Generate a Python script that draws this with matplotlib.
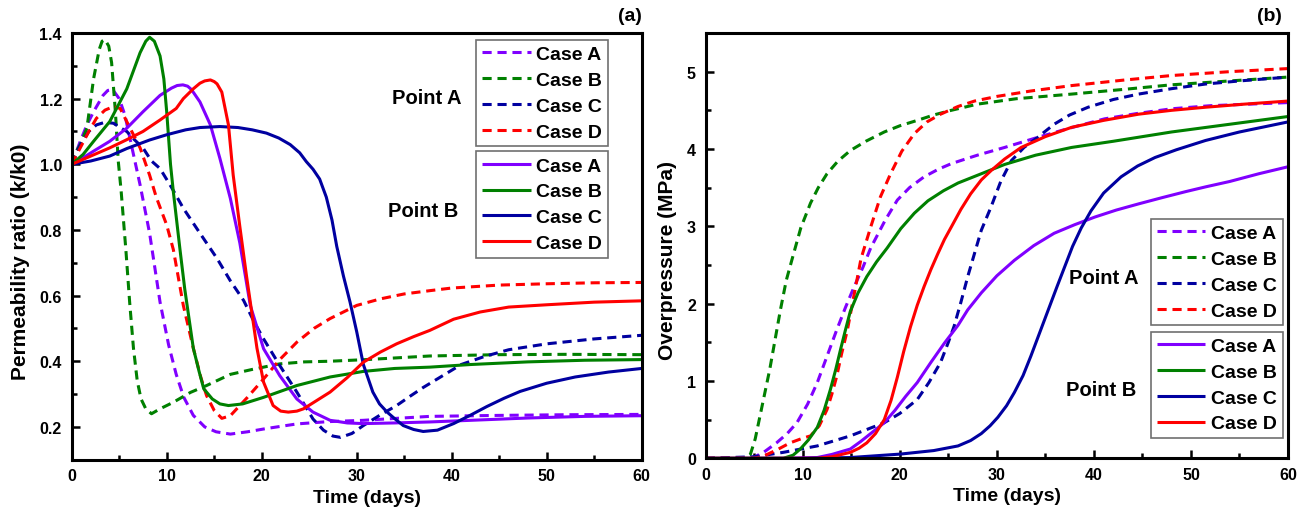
import numpy as np
import matplotlib
matplotlib.use('Agg')
import matplotlib.pyplot as plt
from matplotlib.ticker import MultipleLocator, FormatStrFormatter

plt.rcParams['font.family'] = ['Liberation Sans', 'DejaVu Sans']
plt.rcParams['font.weight'] = 'bold'
plt.rcParams['axes.labelweight'] = 'bold'

colors = ['#8000ff', '#008000', '#0000a0', '#ff0000']
cases = ['Case A', 'Case B', 'Case C', 'Case D']

# ---- (a) permeability ratio, point A (dashed) ----
kA_t_a = [0, 0.9, 1.6, 2.3, 3.3, 3.8, 4.3, 5.0, 5.6, 6.5, 7.2, 8.2, 9.3, 10.2, 11, 11.8, 12.8, 14, 15.2,
          16.7, 18.5, 20.5, 23.7, 27, 30.7, 37.7, 45, 52, 60]
kA_v_a = [1.0, 1.07, 1.12, 1.16, 1.21, 1.225, 1.228, 1.2, 1.15, 1.03, 0.937, 0.79, 0.58, 0.45, 0.36, 0.29,
          0.235, 0.2, 0.185, 0.178, 0.185, 0.195, 0.209, 0.216, 0.22, 0.232, 0.235, 0.237, 0.238]
kA_t_b = [0, 0.5, 0.9, 1.6, 2.3, 2.9, 3.2, 3.5, 3.9, 4.2, 4.6, 4.9, 5.2, 5.7, 6.1, 6.5, 6.9, 7.3, 7.8,
          8.4, 9.3, 10.7, 12.5, 14.2, 16.7, 19, 21.9, 24.5, 27.2, 31, 37.7, 45, 52, 60]
kA_v_b = [1.0, 1.04, 1.06, 1.11, 1.26, 1.35, 1.375, 1.38, 1.36, 1.31, 1.16, 1.01, 0.92, 0.74, 0.58, 0.44,
          0.34, 0.285, 0.255, 0.24, 0.255, 0.275, 0.305, 0.326, 0.36, 0.375, 0.392, 0.398, 0.40, 0.405,
          0.416, 0.42, 0.421, 0.42]
kA_t_c = [0, 0.9, 1.8, 2.6, 3.5, 4.4, 5.2, 5.8, 6.6, 7.5, 8.4, 9.3, 10.5, 11.75, 13.5, 15.3, 16.7, 18.1,
          19.2, 20.2, 21.9, 23.7, 25.4, 26.5, 27.5, 28.3, 29.5, 30.7, 32.4, 34.2, 35.6, 37, 39, 41, 43.5,
          46, 50, 55, 60]
kA_v_c = [1.0, 1.058, 1.1, 1.12, 1.128, 1.125, 1.11, 1.10, 1.075, 1.05, 1.01, 0.987, 0.93, 0.866, 0.79,
          0.713, 0.645, 0.585, 0.52, 0.468, 0.387, 0.306, 0.224, 0.19, 0.172, 0.168, 0.18, 0.204, 0.235,
          0.265, 0.293, 0.32, 0.355, 0.39, 0.415, 0.435, 0.453, 0.468, 0.479]
kA_t_d = [0, 0.9, 1.8, 2.6, 3.5, 4.4, 5.1, 5.8, 6.5, 7.2, 8.2, 8.9, 10, 10.7, 11.75, 12.8, 13.6, 14.2,
          15.0, 15.8, 16.7, 18.5, 20.2, 21.9, 23.7, 25.5, 27.2, 30, 32.5, 35, 37.7, 40, 45, 50, 55, 60]
kA_v_d = [1.0, 1.05, 1.1, 1.14, 1.165, 1.176, 1.17, 1.13, 1.09, 1.05, 0.967, 0.9, 0.815, 0.74, 0.57, 0.44,
          0.35, 0.295, 0.25, 0.226, 0.234, 0.29, 0.346, 0.405, 0.458, 0.5, 0.53, 0.57, 0.59, 0.605, 0.615,
          0.623, 0.632, 0.636, 0.639, 0.64]

# ---- (a) permeability ratio, point B (solid) ----
kB_t_a = [0, 1.2, 2.3, 4, 5.8, 7.5, 9.3, 10.5, 11.1, 11.7, 12.2, 12.6, 13.5, 14.6, 15.6, 16.7, 17.7,
          18.8, 20.2, 21.9, 23.7, 25.4, 27.2, 29, 30.7, 34, 37.7, 42, 48, 54, 60]
kB_v_a = [1.0, 1.02, 1.04, 1.07, 1.11, 1.16, 1.21, 1.232, 1.24, 1.242, 1.238, 1.228, 1.19, 1.12, 1.018,
          0.896, 0.76, 0.57, 0.438, 0.356, 0.285, 0.245, 0.22, 0.212, 0.21, 0.212, 0.215, 0.22, 0.227,
          0.232, 0.234]
kB_t_b = [0, 1.2, 2.3, 4, 5.8, 7.2, 7.8, 8.2, 8.7, 9.3, 9.7, 10, 10.4, 10.7, 11.4, 11.9, 12.4, 12.8,
          13.4, 13.9, 14.8, 15.6, 16.5, 18, 20.2, 23.7, 27.2, 30.7, 34, 37.7, 42, 48, 54, 60]
kB_v_b = [1.0, 1.03, 1.07, 1.13, 1.23, 1.34, 1.375, 1.387, 1.375, 1.33, 1.26, 1.16, 1.0, 0.916, 0.74,
          0.62, 0.52, 0.44, 0.37, 0.316, 0.285, 0.27, 0.265, 0.27, 0.29, 0.326, 0.352, 0.369, 0.378,
          0.382, 0.39, 0.398, 0.403, 0.405]
kB_t_c = [0, 2, 4, 5.8, 8.2, 10, 12, 13.5, 15.6, 17.5, 19, 20.5, 21.8, 23, 24, 24.7, 25.4, 26.1, 26.8,
          27.4, 27.9, 28.6, 29.3, 30, 30.7, 31.7, 32.4, 33.2, 34, 34.9, 36, 37, 38.5, 40.2, 42, 43.7,
          45.5, 47.2, 50, 53, 56.5, 60]
kB_v_c = [1.0, 1.01, 1.025, 1.048, 1.074, 1.09, 1.105, 1.112, 1.115, 1.112, 1.105, 1.095, 1.08, 1.06,
          1.035, 1.008, 0.985, 0.955, 0.9, 0.83, 0.75, 0.66, 0.58, 0.49, 0.39, 0.306, 0.27, 0.245, 0.225,
          0.204, 0.192, 0.186, 0.19, 0.21, 0.236, 0.262, 0.287, 0.308, 0.333, 0.352, 0.367, 0.378]
kB_t_d = [0, 2, 4, 5.8, 7.5, 9.3, 11, 11.75, 12.8, 13.5, 14.0, 14.6, 15.0, 15.3, 15.8, 16.5, 17, 17.7,
          18.4, 18.8, 19.5, 20.2, 21.2, 22, 22.8, 23.7, 24.4, 25.5, 27.2, 29, 30.7, 32.5, 34.2, 36, 37.7,
          40.2, 43, 46, 50, 55, 60]
kB_v_d = [1.0, 1.025, 1.05, 1.075, 1.10, 1.135, 1.17, 1.2, 1.23, 1.247, 1.254, 1.257, 1.252, 1.245,
          1.22, 1.12, 0.967, 0.81, 0.66, 0.58, 0.44, 0.336, 0.265, 0.248, 0.245, 0.248, 0.255, 0.275,
          0.306, 0.35, 0.397, 0.428, 0.453, 0.475, 0.494, 0.528, 0.55, 0.565, 0.572, 0.58, 0.584]

# ---- (b) overpressure, point A (dashed) ----
pA_t_a = [0, 4, 4.9, 6, 7.3, 8.4, 9.4, 10.5, 11.5, 12.5, 13.5, 14.4, 15.3, 16.2, 17, 18.5, 19.75, 21,
          22.5, 24, 25.3, 27, 28, 30.8, 34.2, 37.5, 41.1, 44.5, 48, 52, 56, 60]
pA_v_a = [0, 0, 0.01, 0.08, 0.2, 0.32, 0.46, 0.7, 0.98, 1.32, 1.66, 1.95, 2.22, 2.47, 2.72, 3.08, 3.34,
          3.5, 3.64, 3.74, 3.81, 3.88, 3.92, 4.02, 4.15, 4.27, 4.39, 4.46, 4.52, 4.56, 4.58, 4.6]
pA_t_b = [0, 4, 4.6, 5.1, 5.6, 6.1, 6.6, 7.1, 7.7, 8.3, 9, 9.8, 10.8, 11.6, 12.5, 13.6, 14.9, 16.5,
          18.4, 20, 21.8, 23.5, 25.3, 28, 32, 37.7, 43, 48, 54, 60]
pA_v_b = [0, 0, 0.05, 0.25, 0.55, 0.85, 1.15, 1.5, 1.92, 2.3, 2.62, 2.98, 3.3, 3.5, 3.68, 3.84, 3.98,
          4.1, 4.22, 4.3, 4.37, 4.44, 4.5, 4.58, 4.65, 4.71, 4.77, 4.83, 4.88, 4.93]
pA_t_c = [0, 5, 8, 11.5, 14.9, 18.4, 20, 21.8, 23, 24.2, 25, 25.6, 26.3, 27, 27.7, 28.4, 29.4, 30.4,
          31.5, 32.8, 34.2, 35.9, 37.5, 39.4, 42, 44.6, 48, 51.5, 55, 60]
pA_v_c = [0, 0.02, 0.077, 0.16, 0.29, 0.46, 0.58, 0.76, 0.98, 1.24, 1.5, 1.71, 2.02, 2.35, 2.65, 2.95,
          3.25, 3.58, 3.85, 4.02, 4.15, 4.32, 4.44, 4.54, 4.64, 4.71, 4.78, 4.84, 4.88, 4.93]
pA_t_d = [0, 5, 6, 7.5, 8.7, 10, 10.8, 11.7, 12.5, 13, 13.5, 14, 14.6, 15.3, 16, 17, 18, 19.05, 20.2,
          21.5, 22.8, 24.2, 26, 27.7, 30, 33.5, 37.7, 43, 48, 54, 60]
pA_v_d = [0, 0, 0.03, 0.12, 0.2, 0.26, 0.29, 0.42, 0.63, 0.83, 1.06, 1.35, 1.66, 2.12, 2.58, 2.99, 3.38,
          3.68, 3.97, 4.2, 4.35, 4.45, 4.55, 4.62, 4.68, 4.75, 4.82, 4.89, 4.95, 5.0, 5.04]

# ---- (b) overpressure, point B (solid) ----
pB_t_a = [0, 8, 11.5, 13, 14.9, 16, 17, 18.4, 19.5, 20.6, 21.8, 23.2, 24.6, 26, 27, 28.4, 30, 31.8,
          33.8, 35.9, 38, 40.1, 42.3, 44.6, 47, 49.5, 51.5, 54, 57, 60]
pB_v_a = [0, 0, 0.01, 0.05, 0.12, 0.22, 0.32, 0.46, 0.62, 0.8, 0.98, 1.24, 1.49, 1.72, 1.92, 2.14, 2.36,
          2.56, 2.75, 2.91, 3.02, 3.12, 3.21, 3.29, 3.37, 3.45, 3.51, 3.58, 3.68, 3.77]
pB_t_b = [0, 8, 9, 9.75, 10.6, 11.5, 12.2, 12.85, 13.4, 13.9, 14.4, 14.9, 15.7, 16.6, 17.6, 18.7, 20.1,
          21.5, 22.9, 24.5, 26, 28.2, 30.8, 34, 37.7, 42, 48, 54, 60]
pB_v_b = [0, 0, 0.04, 0.12, 0.24, 0.4, 0.62, 0.89, 1.15, 1.41, 1.66, 1.9, 2.14, 2.35, 2.54, 2.72, 2.97,
          3.17, 3.33, 3.46, 3.56, 3.67, 3.8, 3.92, 4.02, 4.1, 4.22, 4.32, 4.42]
pB_t_c = [0, 10, 14.9, 20.1, 23.5, 26, 27.3, 28.4, 29.3, 30.1, 31, 31.8, 32.7, 33.5, 34.4, 35.3, 36.2,
          37, 37.8, 38.7, 39.7, 41, 42.8, 44.5, 46.3, 48.5, 51.5, 55, 60]
pB_v_c = [0, 0, 0.01, 0.055, 0.1, 0.16, 0.23, 0.32, 0.42, 0.53, 0.68, 0.85, 1.07, 1.32, 1.62, 1.92, 2.22,
          2.48, 2.74, 2.98, 3.2, 3.43, 3.64, 3.78, 3.89, 3.99, 4.11, 4.22, 4.35]
pB_t_d = [0, 11.5, 13, 14.9, 15.8, 16.6, 17.5, 18.4, 19.1, 19.75, 20.4, 21.1, 21.8, 22.5, 23.2, 23.9,
          24.6, 25.3, 26.3, 27.3, 28.4, 29.4, 30.8, 32.5, 35, 37.7, 41, 44.6, 48, 51.5, 55.5, 60]
pB_v_d = [0, 0, 0.02, 0.077, 0.13, 0.2, 0.32, 0.5, 0.75, 1.05, 1.38, 1.7, 1.98, 2.22, 2.44, 2.64, 2.83,
          2.99, 3.22, 3.42, 3.6, 3.72, 3.87, 4.02, 4.16, 4.28, 4.37, 4.45, 4.5, 4.54, 4.58, 4.62]

perm_A = [(kA_t_a, kA_v_a), (kA_t_b, kA_v_b), (kA_t_c, kA_v_c), (kA_t_d, kA_v_d)]
perm_B = [(kB_t_a, kB_v_a), (kB_t_b, kB_v_b), (kB_t_c, kB_v_c), (kB_t_d, kB_v_d)]
pres_A = [(pA_t_a, pA_v_a), (pA_t_b, pA_v_b), (pA_t_c, pA_v_c), (pA_t_d, pA_v_d)]
pres_B = [(pB_t_a, pB_v_a), (pB_t_b, pB_v_b), (pB_t_c, pB_v_c), (pB_t_d, pB_v_d)]

W, H = 1308, 510
fig = plt.figure(figsize=(W / 100, H / 100), dpi=100)
ax1 = fig.add_axes([71.7 / W, 1 - 460.7 / H, 570 / W, 426.7 / H])
ax2 = fig.add_axes([705.7 / W, 1 - 459.3 / H, 582.3 / W, 425.3 / H])

lw = 2.2
dash = (0, (3.0, 1.9))


def draw(ax, dashed, solid):
    hd, hs = [], []
    for (t, v), c in zip(dashed, colors):
        l, = ax.plot(t, v, color=c, lw=lw, linestyle=dash)
        hd.append(l)
    for (t, v), c in zip(solid, colors):
        l, = ax.plot(t, v, color=c, lw=lw, solid_capstyle='butt')
        hs.append(l)
    return hd, hs


def style(ax):
    for s in ax.spines.values():
        s.set_linewidth(2.2)
    ax.tick_params(which='both', direction='in', width=1.8, labelsize=11.5)
    ax.tick_params(which='major', length=6)
    ax.tick_params(which='minor', length=3.5)
    ax.tick_params(axis='x', pad=6)
    ax.tick_params(axis='y', pad=7)
    ax.set_xlim(0, 60)
    ax.xaxis.set_major_locator(MultipleLocator(10))
    ax.xaxis.set_minor_locator(MultipleLocator(5))
    ax.set_xlabel('Time (days)', fontsize=14, labelpad=4)
    ax.xaxis.label.set_x(0.518)
    ax.yaxis.label.set_y(0.467)


def legends(ax, hd, hs, x, y1, y2):
    kw = dict(loc='upper right', fontsize=14, frameon=True, fancybox=False, framealpha=1,
              edgecolor='#707070', borderpad=0.3, labelspacing=0.42, handlelength=2.5,
              handletextpad=0.3, borderaxespad=0)
    leg1 = ax.legend(hd, cases, bbox_to_anchor=(x, y1), **kw)
    leg1.get_frame().set_linewidth(1.2)
    ax.add_artist(leg1)
    leg2 = ax.legend(hs, cases, bbox_to_anchor=(x, y2), **kw)
    leg2.get_frame().set_linewidth(1.2)


# (a)
hd, hs = draw(ax1, perm_A, perm_B)
ax1.set_ylabel('Permeability ratio (k/k0)', fontsize=15, labelpad=7)
style(ax1)
ax1.set_ylim(0.1, 1.4)
ax1.yaxis.set_major_locator(MultipleLocator(0.2))
ax1.yaxis.set_minor_locator(MultipleLocator(0.1))
ax1.yaxis.set_major_formatter(FormatStrFormatter('%.1f'))
legends(ax1, hd, hs, 0.941, 0.984, 0.723)
ax1.text(0.684, 0.848, 'Point A', transform=ax1.transAxes, ha='right', va='center', fontsize=14.5)
ax1.text(0.678, 0.584, 'Point B', transform=ax1.transAxes, ha='right', va='center', fontsize=14.5)
ax1.text(1.0, 1.04, '(a)', transform=ax1.transAxes, ha='right', va='center', fontsize=14)

# (b)
hd, hs = draw(ax2, pres_A, pres_B)
ax2.set_ylabel('Overpressure (MPa)', fontsize=15, labelpad=7)
style(ax2)
ax2.set_ylim(0, 5.5)
ax2.yaxis.set_major_locator(MultipleLocator(1))
ax2.yaxis.set_minor_locator(MultipleLocator(0.5))
legends(ax2, hd, hs, 0.991, 0.563, 0.298)
ax2.text(0.743, 0.424, 'Point A', transform=ax2.transAxes, ha='right', va='center', fontsize=14.5)
ax2.text(0.740, 0.161, 'Point B', transform=ax2.transAxes, ha='right', va='center', fontsize=14.5)
ax2.text(0.99, 1.04, '(b)', transform=ax2.transAxes, ha='right', va='center', fontsize=14)

fig.savefig('out.png', dpi=100)
